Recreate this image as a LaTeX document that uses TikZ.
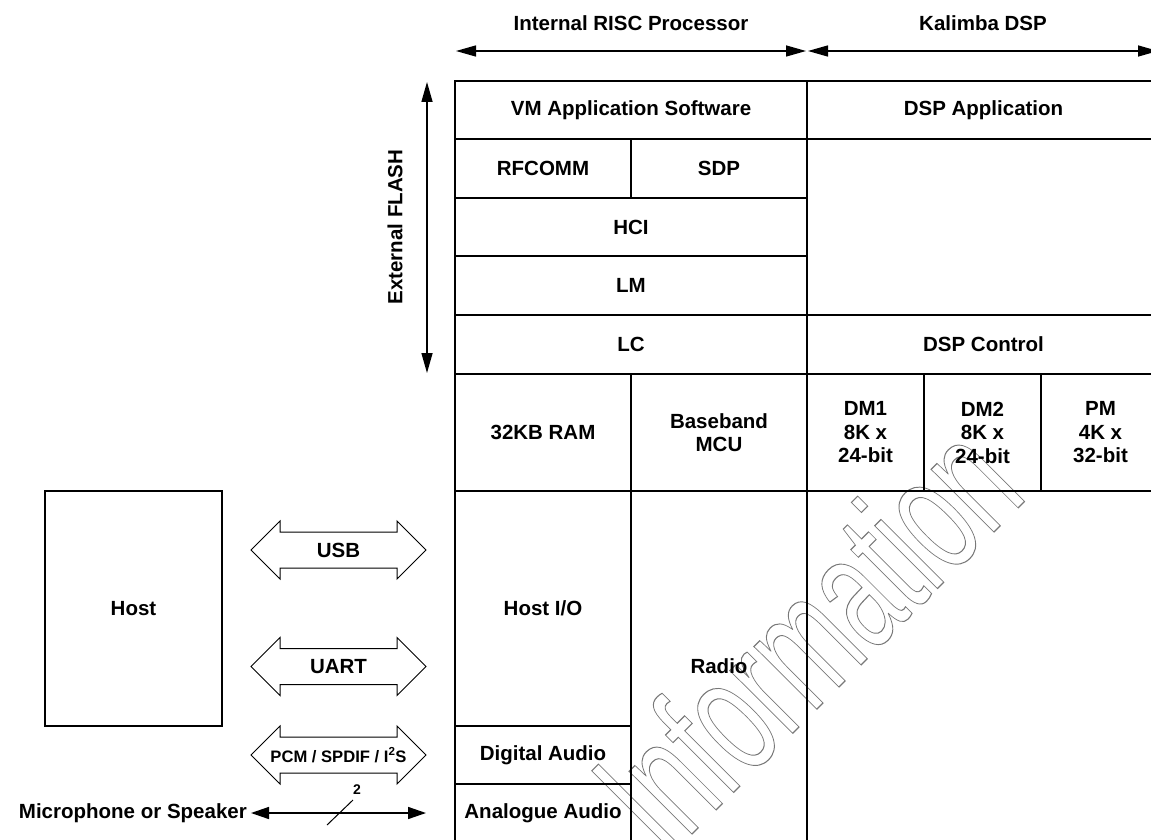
\documentclass[tikz,border=0pt]{standalone}
\usepackage{fontspec}
\setmainfont{Liberation Sans}
\usetikzlibrary{arrows.meta}
\definecolor{markgray}{RGB}{120,120,120}
\newcommand\outlinetext[1]{\special{pdf:literal direct 1 Tr 1.1 w}#1\special{pdf:literal direct 0 Tr}}

\begin{document}
\begin{tikzpicture}[x=1pt,y=-1pt,
    every node/.style={font=\fontsize{20.5}{23.5}\selectfont\bfseries},
    cell/.style={draw,line width=2pt,inner sep=0pt,align=center},
    span/.style={line width=1.5pt,{Triangle[length=20pt,width=11pt]}-{Triangle[length=20pt,width=11pt]}},
    dblarrow/.pic={\draw[line width=1pt] (-87.5,0) -- (-58.5,-29) -- (-58.5,-18) -- (58.5,-18)
        -- (58.5,-29) -- (87.5,0) -- (58.5,29) -- (58.5,18) -- (-58.5,18) -- (-58.5,29) -- cycle;}]
  \useasboundingbox (0,0) rectangle (1151,840);

  % watermark
  \node[font=\fontsize{168}{168}\selectfont,text=markgray,anchor=base,inner sep=0pt,
        rotate=45,xscale=0.61,transform shape] (mark) at (848,678) {\outlinetext{Information}};

  % top labels
  \node (risc) at (631,23) {Internal RISC Processor};
  \node (kalimba) at (983,23) {Kalimba DSP};
  \coordinate (riscL) at (456,51);
  \coordinate (riscR) at (806,51);
  \coordinate (dspL) at (808,51);
  \coordinate (dspR) at (1158,51);
  \draw[span] (riscL) -- (riscR);
  \draw[span] (dspL) -- (dspR);

  % flash
  \node[rotate=90] (flash) at (395,227) {External FLASH};
  \coordinate (flashT) at (427,82);
  \coordinate (flashB) at (427,373);
  \draw[span] (flashT) -- (flashB);

  % risc stack
  \node[cell,minimum width=352pt,minimum height=58pt] (vm) at (631,110) {VM Application Software};
  \node[cell,minimum width=176pt,minimum height=59pt] (rfcomm) at (543,168.5) {RFCOMM};
  \node[cell,minimum width=176pt,minimum height=59pt] (sdp) at (719,168.5) {SDP};
  \node[cell,minimum width=352pt,minimum height=58pt] (hci) at (631,227) {HCI};
  \node[cell,minimum width=352pt,minimum height=59pt] (lm) at (631,285.5) {LM};
  \node[cell,minimum width=352pt,minimum height=59pt] (lc) at (631,344.5) {LC};
  \node[cell,minimum width=176pt,minimum height=117pt] (ram) at (543,432.5) {32KB RAM};
  \node[cell,minimum width=176pt,minimum height=117pt] (mcu) at (719,432.5) {Baseband\\MCU};
  \node[cell,minimum width=176pt,minimum height=235pt] (hostio) at (543,608.5) {Host I/O};
  \node[cell,minimum width=176pt,minimum height=58pt] (digaudio) at (543,755) {Digital Audio};
  \node[cell,minimum width=176pt,minimum height=58pt] (anaudio) at (543,813) {Analogue Audio};
  \node[cell,minimum width=176pt,minimum height=351pt] (radio) at (719,666.5) {Radio};

  % dsp stack
  \node[cell,minimum width=353pt,minimum height=58pt] (dspapp) at (983.5,110) {DSP Application};
  \node[cell,minimum width=353pt,minimum height=176pt] (dspfree) at (983.5,227) {};
  \node[cell,minimum width=353pt,minimum height=59pt] (dspctl) at (983.5,344.5) {DSP Control};
  \node[cell,minimum width=117pt,minimum height=117pt] (dm1) at (865.5,432.5) {DM1\\8K x\\24-bit};
  \node[cell,minimum width=117pt,minimum height=117pt] (dm2) at (982.5,432.5) {DM2\\8K x\\24-bit};
  \node[cell,minimum width=119pt,minimum height=117pt] (pm) at (1100.5,432.5) {PM\\4K x\\32-bit};
  \node[cell,minimum width=353pt,minimum height=351pt] (dspfoot) at (983.5,666.5) {};

  % host side
  \node[draw,line width=1.3pt,minimum width=177pt,minimum height=235pt] (host) at (133.5,608.5) {Host};
  \pic at (338.5,550) {dblarrow};
  \node (usb) at (338.5,550) {USB};
  \pic at (338.5,666.5) {dblarrow};
  \node (uart) at (338.5,666.5) {UART};
  \pic at (338.5,755) {dblarrow};
  \node[font=\fontsize{16.6}{20}\selectfont\bfseries] (pcm) at (338.5,755) {PCM / SPDIF / I\textsuperscript{2}S};

  % audio line
  \node[anchor=east,inner sep=4pt] (mic) at (251,813) {Microphone or Speaker};
  \coordinate (micR) at (426,813);
  \draw[line width=1.5pt,{Triangle[length=18pt,width=12pt]}-{Triangle[length=18pt,width=12pt]}] (mic) -- (micR);
  \coordinate (slashA) at (327,825);
  \coordinate (slashB) at (353,800);
  \draw[line width=1pt] (slashA) -- (slashB);
  \node[font=\fontsize{14}{14}\selectfont\bfseries] (two) at (357,790) {2};
\end{tikzpicture}
\end{document}
